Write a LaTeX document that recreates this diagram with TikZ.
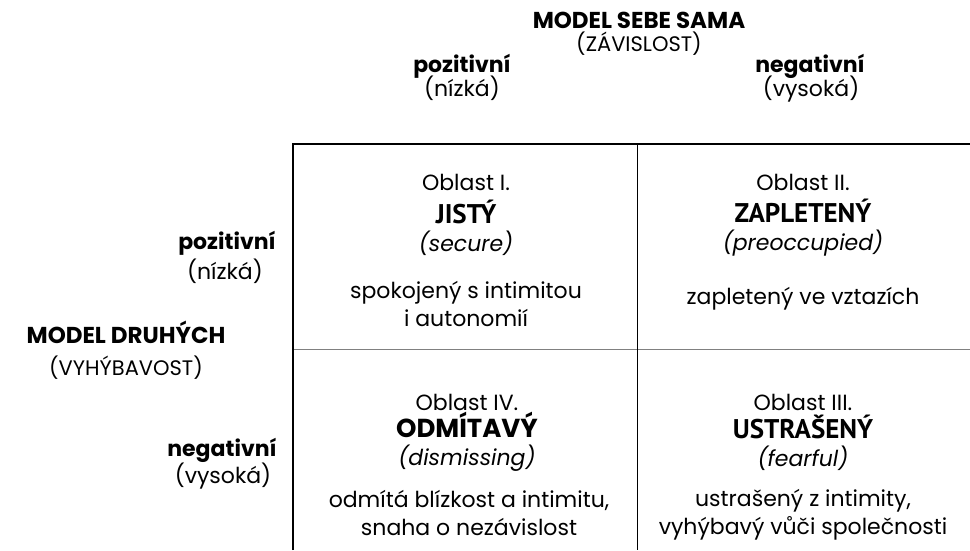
\documentclass[tikz,border=0pt]{standalone}
\usepackage{fontspec}
\setmainfont{Poppins}
\newfontfamily\narrowfont{PT Sans}
\begin{document}
\begin{tikzpicture}[x=1pt,y=-1pt,
    txt/.style={font=\fontsize{22}{26}\selectfont, inner sep=0pt, anchor=base},
    head/.style={font=\fontsize{22}{26}\selectfont\bfseries, inner sep=0pt, anchor=base},
    bighead/.style={font=\fontsize{23}{28}\selectfont\bfseries, inner sep=0pt, anchor=base},
    sub/.style={font=\fontsize{21}{25}\selectfont, inner sep=0pt, anchor=base},
    title/.style={font=\fontsize{27}{31}\selectfont\narrowfont\bfseries, inner sep=0pt, anchor=base},
    wtitle/.style={font=\fontsize{26}{30}\selectfont\bfseries, inner sep=0pt, anchor=base},
    frame/.style={line width=2pt},
    grid/.style={line width=1pt}]
  \useasboundingbox (0,0) rectangle (970,550);
  % column headings
  \node[bighead] (self) at (639,28) {MODEL SEBE SAMA};
  \node[sub] (selfsub) at (639,51) {(ZÁVISLOST)};
  \node[head] (colpos) at (462,72) {pozitivní};
  \node[txt] (colposs) at (462,96) {(nízká)};
  \node[head] (colneg) at (810,72) {negativní};
  \node[txt] (colnegs) at (811,96) {(vysoká)};
  % row headings
  \node[head] (rowpos) at (227,249) {pozitivní};
  \node[txt] (rowposs) at (225,279) {(nízká)};
  \node[bighead] (other) at (126,343) {MODEL DRUHÝCH};
  \node[sub] (othersub) at (126,375) {(VYHÝBAVOST)};
  \node[head] (rowneg) at (222,456) {negativní};
  \node[txt] (rownegs) at (223,483) {(vysoká)};
  % grid
  \coordinate (tl) at (293,144);
  \coordinate (tr) at (970,144);
  \coordinate (bl) at (293,550);
  \coordinate (tm) at (637,144);
  \coordinate (bm) at (637,550);
  \coordinate (ml) at (293,349);
  \coordinate (mr) at (970,349);
  \draw[grid, gray] (ml) -- (mr);
  \draw[grid] (tm) -- (bm);
  \draw[frame] (bl) -- (tl) -- (tr);
  % Oblast I
  \node[txt] (q1a) at (466,190) {Oblast I.};
  \node[title] (q1b) at (466,223) {JISTÝ};
  \node[txt] (q1c) at (466,251) {\itshape (secure)};
  \node[txt] (q1d) at (466,298) {spokojený s intimitou};
  \node[txt] (q1e) at (466,326) {i autonomií};
  % Oblast II
  \node[txt] (q2a) at (803,190) {Oblast II.};
  \node[title] (q2b) at (803,222) {ZAPLETENÝ};
  \node[txt] (q2c) at (803,250) {\itshape (preoccupied)};
  \node[txt] (q2d) at (803,304) {zapletený ve vztazích};
  % Oblast IV
  \node[txt] (q4a) at (467,410) {Oblast IV.};
  \node[wtitle] (q4b) at (467,437) {ODMÍTAVÝ};
  \node[txt] (q4c) at (467,465) {\itshape (dismissing)};
  \node[txt] (q4d) at (469,507) {odmítá blízkost a intimitu,};
  \node[txt] (q4e) at (469,535) {snaha o nezávislost};
  % Oblast III
  \node[txt] (q3a) at (803,410) {Oblast III.};
  \node[title] (q3b) at (803,438) {USTRAŠENÝ};
  \node[txt] (q3c) at (803,466) {\itshape (fearful)};
  \node[txt] (q3d) at (803,506) {ustrašený z intimity,};
  \node[txt] (q3e) at (803,534) {vyhýbavý vůči společnosti};
\end{tikzpicture}
\end{document}
